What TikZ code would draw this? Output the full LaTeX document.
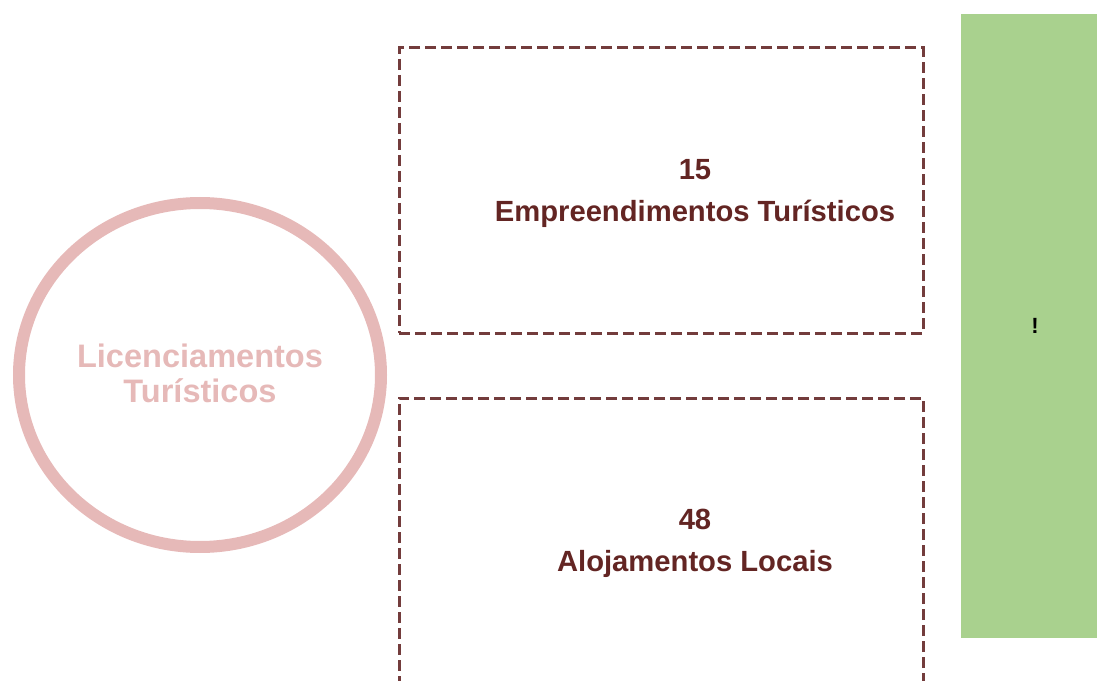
\documentclass[tikz,border=0pt]{standalone}
\usepackage{fontspec}
\setmainfont{Liberation Sans}
\usepackage{tikz}
\usetikzlibrary{shapes.geometric, positioning}
\definecolor{ringpink}{HTML}{E6B9B8}
\definecolor{dashbrown}{HTML}{733C3C}
\definecolor{txtbrown}{HTML}{632523}
\definecolor{panelgreen}{HTML}{A9D18E}
\tikzset{
  ring/.style    = {ellipse, draw=ringpink, line width=9pt, inner sep=0pt,
                    minimum width=271.5pt, minimum height=258pt},
  ringtxt/.style = {font=\bfseries\fontsize{24.4pt}{26.25pt}\selectfont,
                    text=ringpink, align=center},
  dbox/.style    = {draw=dashbrown, line width=2.25pt,
                    dash pattern=on 8.6pt off 3.4pt, minimum width=393pt},
  boxtxt/.style  = {font=\bfseries\fontsize{21.9pt}{31.5pt}\selectfont,
                    text=txtbrown, align=center},
  panel/.style   = {fill=panelgreen, minimum width=111pt, minimum height=468pt,
                    font=\bfseries\fontsize{16.5pt}{18pt}\selectfont},
}

\begin{document}
\begin{tikzpicture}[x=0.75pt, y=-0.75pt]
    \useasboundingbox (0,0) rectangle (1097,681);
    \clip (0,0) rectangle (1097,681);

    \node[ring] (licenc) at (200,375) {};
    \node[ringtxt] (licenctxt) at (200,373) {Licenciamentos\\Turísticos};

    \node[dbox, minimum height=213.75pt] (empr) at (661,190.5) {};
    \node[boxtxt] (emprtxt) at (695,193) {15\\Empreendimentos Turísticos};

    \node[dbox, minimum height=241.5pt] (aloj) at (661,559) {};
    \node[boxtxt] (alojtxt) at (695,543) {48\\Alojamentos Locais};

    \node[panel] (aviso) at (1035,326) {!};
  \end{tikzpicture}
\end{document}
